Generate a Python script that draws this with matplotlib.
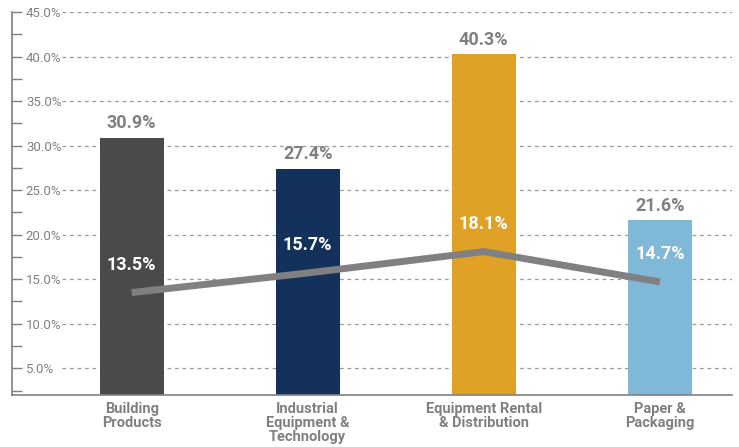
import matplotlib.pyplot as plt
from matplotlib import font_manager

categories = ["Building\nProducts", "Industrial\nEquipment &\nTechnology",
              "Equipment Rental\n& Distribution", "Paper &\nPackaging"]
bar_values = [30.9, 27.4, 40.3, 21.6]
line_values = [13.5, 15.7, 18.1, 14.7]
bar_colors = ["#4a4a4c", "#13315a", "#dfa226", "#80b8d8"]
y_ticks = [5, 10, 15, 20, 25, 30, 35, 40, 45]

names = {f.name for f in font_manager.fontManager.ttflist}
font = "Liberation Sans Narrow" if "Liberation Sans Narrow" in names else "Roboto"
plt.rcParams['font.family'] = [font, 'DejaVu Sans']

GRAY = "#808083"

fig = plt.figure(figsize=(7.39, 4.47), dpi=100)
ax = fig.add_axes([12 / 739, 52 / 447, (732 - 12) / 739, (395 - 12) / 447])

x = list(range(len(categories)))
ax.bar(x, bar_values, width=0.365, color=bar_colors, zorder=2)
ax.plot(x, line_values, color=GRAY, lw=5, zorder=3, solid_capstyle='butt')

for xi, v in zip(x, bar_values):
    ax.text(xi, v + 0.6, f"{v:.1f}%", ha='center', va='bottom', fontsize=13,
            fontweight='bold', color=GRAY)
for xi, v in zip(x, line_values):
    ax.text(xi, v + 2.1, f"{v:.1f}%", ha='center', va='bottom', fontsize=13,
            fontweight='bold', color='white', zorder=4)

for t in y_ticks:
    ax.axhline(t, xmin=0.07, xmax=1, color="#9a9a9a", lw=0.9, ls=(0, (3, 3)), zorder=1)

ax.set_xlim(-0.68, 3.41)
ax.set_ylim(2, 45)
ax.set_yticks(y_ticks)
ax.set_yticks([2.5 + 5 * i for i in range(9)], minor=True)
ax.set_yticklabels([f"{t:.1f}%" for t in y_ticks], fontsize=9.5, color=GRAY)
for lab in ax.get_yticklabels():
    lab.set_horizontalalignment('left')
ax.tick_params(axis='y', which='both', direction='in', length=7, width=1,
               color=GRAY, pad=-10)
ax.set_xticks(x)
ax.set_xticklabels(categories, fontsize=10.5, fontweight='bold', color=GRAY,
                   linespacing=1.0)
ax.tick_params(axis='x', length=0, pad=5)

for s in ['top', 'right']:
    ax.spines[s].set_visible(False)
for s in ['left', 'bottom']:
    ax.spines[s].set_color(GRAY)
    ax.spines[s].set_linewidth(1.2)

fig.savefig("out.png", dpi=100)
